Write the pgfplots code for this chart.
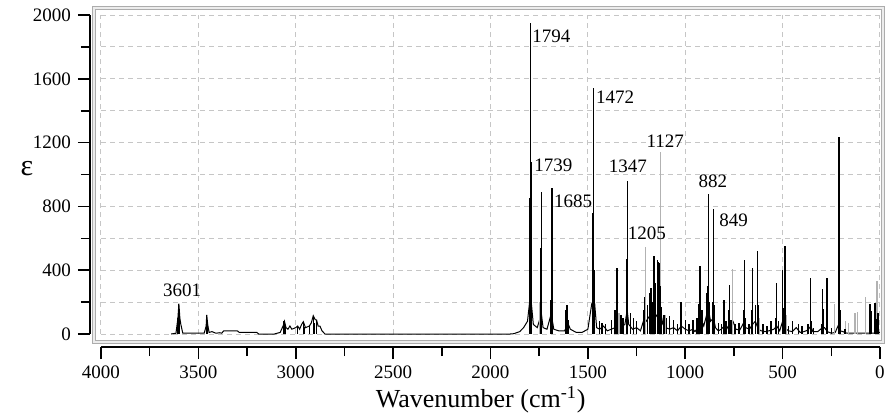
\documentclass[border=0pt]{standalone}
\usepackage{fontspec}
\setmainfont{Liberation Serif}
\usepackage{pgfplots}
\pgfplotsset{compat=1.18}
\begin{document}
\begin{tikzpicture}
\begin{axis}[
  scale only axis, width=389.5pt, height=159.5pt,
  x dir=reverse, xmin=0, xmax=4000, ymin=0, ymax=2000,
  axis x line*=bottom, axis y line*=left,
  axis x line shift=6.5pt, axis y line shift=5.5pt,
  axis line style={line width=1pt},
  xtick={0,500,...,4000}, minor x tick num=1,
  ytick={0,400,...,2000}, minor y tick num=1,
  tick align=outside, major tick length=6pt, minor tick length=4.5pt,
  tick style={black, line width=0.8pt},
  xmajorgrids, ymajorgrids, yminorgrids,
  grid style={gray!45, dash pattern=on 2.5pt off 2pt, line width=0.5pt},
  minor grid style={gray!45, dash pattern=on 2.5pt off 2pt, line width=0.5pt},
  tick label style={font=\fontsize{9.5}{10}\selectfont},
  /pgf/number format/assume math mode=true,
  /pgf/number format/set thousands separator={},
  clip=false,
]
% frame
\draw[gray!65, line width=0.5pt, double=gray!15, double distance=0.7pt]
  ([xshift=-3.5pt,yshift=-4pt]axis cs:4000,0) rectangle ([xshift=1.5pt,yshift=3.5pt]axis cs:0,2000);
\coordinate (bl) at (axis cs:4000,0);

% envelope
\addplot[black, line width=0.5pt] coordinates {
(3640,0)(3615,5)(3605,100)(3600,190)(3595,100)(3590,60)(3580,5)(3470,5)(3460,50)(3457,120)(3452,60)(3445,10)
(3430,15)(3420,10)(3410,5)(3390,8)(3380,5)(3370,20)(3300,20)(3290,10)(3200,10)(3190,0)(3110,0)(3080,10)
(3065,50)(3058,80)(3050,40)(3040,30)(3030,50)(3020,30)(3000,40)(2990,50)(2980,30)(2970,60)(2961,77)(2950,40)
(2930,50)(2920,70)(2910,115)(2900,90)(2893,88)(2885,50)(2876,50)(2865,20)(2850,0)(1900,0)
(1880,2)(1850,15)(1830,40)(1810,80)(1800,190)(1790,190)(1780,60)(1760,40)(1745,100)(1738,120)(1730,40)
(1710,30)(1692,110)(1686,110)(1675,30)(1650,20)(1620,20)(1600,60)(1590,30)(1560,10)(1530,10)(1500,30)
(1480,190)(1465,190)(1455,40)(1440,30)(1420,50)(1400,20)(1380,30)(1360,40)(1345,100)(1335,40)(1310,60)
(1298,150)(1290,60)(1270,30)(1250,40)(1230,20)(1210,100)(1200,80)(1180,120)(1160,150)(1150,110)(1128,150)
(1115,60)(1100,40)(1080,30)(1060,40)(1040,20)(1020,50)(1000,30)(980,20)(960,30)(950,15)(935,40)(920,100)
(905,50)(890,120)(880,150)(870,80)(855,100)(845,40)(830,20)(815,30)(800,50)(790,25)(770,70)(755,80)
(740,30)(720,25)(700,70)(690,40)(670,30)(655,60)(640,80)(625,30)(610,20)(590,15)(570,20)(545,30)(530,50)
(515,20)(500,80)(490,40)(470,20)(450,15)(430,40)(410,10)(390,15)(370,25)(355,50)(345,15)(320,15)(300,35)
(285,40)(270,15)(250,5)(230,10)(212,60)(205,20)(190,15)(170,5)(150,5)(130,5)(110,5)(90,5)(70,5)(50,5)
(30,5)(15,10)(0,10)
};

% gray sticks
\addplot[ycomb, gray!60, line width=0.6pt, mark=none] coordinates {
(1800,300)(1748,200)(1692,150)(1478,194)(1340,130)(1205,545)(1127,1143)(1100,120)(940,60)(801,207)
(757,410)(620,100)(480,120)(234,188)(176,80)(160,69)(128,130)(115,140)(74,234)(15,332)
};

% black sticks
\addplot[ycomb, black, line width=0.7pt, mark=none] coordinates {
(3605,100)(3601,186)(3597,120)(3457,119)(3454,60)(3060,81)(3055,50)(2990,50)(2961,77)(2955,45)(2930,55)
(2910,115)(2905,70)(2893,88)
(1798,820)(1797,850)(1794,1952)(1791,1080)(1789,700)(1788,464)(1744,300)(1742,539)(1740,520)(1739,892)
(1690,213)(1687,485)(1686,460)(1685,917)
(1612,150)(1608,182)(1604,130)(1600,90)(1477,740)(1476,758)(1474,760)(1473,740)(1472,1540)(1469,400)(1440,80)(1428,70)
(1410,60)(1380,90)(1360,150)(1350,413)(1347,200)(1330,120)(1320,100)(1302,450)(1301,470)(1298,959)(1295,300)
(1280,130)(1265,100)(1250,80)(1215,150)(1210,234)(1195,180)(1182,260)(1175,288)(1165,200)(1160,491)
(1156,320)(1142,464)(1138,450)(1135,447)(1130,300)(1125,171)(1110,120)(1095,100)(1080,110)(1060,90)
(1040,60)(1022,203)(1000,90)(980,60)(960,90)(940,100)(932,190)(924,426)(915,150)(888,260)(884,300)
(882,876)(878,200)(858,200)(854,784)(850,180)(830,70)(815,60)(800,213)(790,80)(775,150)(772,307)
(765,90)(745,60)(725,70)(700,150)(695,463)(690,100)(672,60)(660,150)(656,413)(640,180)(629,520)
(625,180)(600,60)(580,50)(560,80)(535,100)(532,318)(520,80)(500,400)(492,160)(488,553)(470,50)
(450,80)(420,60)(400,50)(370,60)(358,350)(355,80)(340,40)(300,60)(294,282)(290,157)(273,350)(250,40)
(212,100)(210,1237)(205,150)(180,30)(51,188)(46,145)(25,196)(20,94)(10,130)
};

% peak labels
\begin{scope}[every node/.style={font=\fontsize{9.5}{10}\selectfont, anchor=west, inner sep=0pt}]
\node at (axis cs:1787,1868) {1794};
\node at (axis cs:1777,1060) {1739};
\node at (axis cs:1675,834) {1685};
\node at (axis cs:1460,1486) {1472};
\node at (axis cs:1394,1053) {1347};
\node at (axis cs:1200,1210) {1127};
\node at (axis cs:1297,633) {1205};
\node at (axis cs:934,959) {882};
\node at (axis cs:827,715) {849};
\node at (axis cs:3683,276) {3601};
\end{scope}

% axis titles
\node[font=\fontsize{15}{16}\selectfont] at ([xshift=-37pt]axis cs:4000,1040) {ε};
\node[font=\fontsize{13}{14}\selectfont] at ([yshift=-33pt]axis cs:2050,0) {Wavenumber (cm\textsuperscript{-1})};
\end{axis}
\pgfresetboundingbox
\path ([shift={(-50.5pt,-42.5pt)}]bl) rectangle ([shift={(392.5pt,167pt)}]bl);
\end{tikzpicture}
\end{document}
